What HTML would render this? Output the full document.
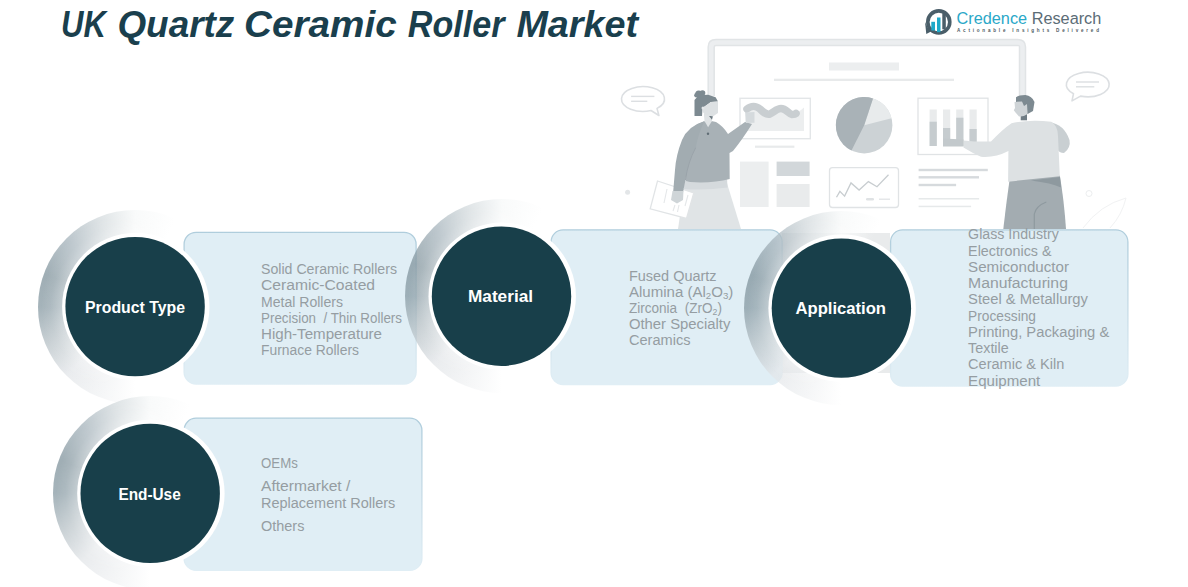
<!DOCTYPE html>
<html><head><meta charset="utf-8">
<style>
html,body{margin:0;padding:0;background:#fff;}
body{width:1188px;height:587px;position:relative;overflow:hidden;font-family:"Liberation Sans",sans-serif;}
svg{position:absolute;left:0;top:0;}
.t{font-family:"Liberation Sans",sans-serif;}
.lst{fill:#959da2;font-size:14px;}
.lbl{fill:#fff;font-weight:bold;font-size:16px;}
.ring{position:absolute;width:194px;height:194px;border-radius:50%;background:conic-gradient(rgba(247,249,249,0.75) 0deg, rgba(255,255,255,0) 25deg, rgba(255,255,255,0) 180deg, rgba(227,230,233,0.75) 225deg, rgba(184,194,199,0.75) 247deg, rgba(135,154,163,0.75) 270deg, rgba(128,147,156,0.75) 290deg, rgba(165,179,187,0.75) 315deg, rgba(211,218,221,0.75) 338deg, rgba(247,249,249,0.75) 360deg);}
.ringhl{position:absolute;width:194px;height:194px;border-radius:50%;background:radial-gradient(circle closest-side, rgba(255,255,255,0.32) 76%, rgba(255,255,255,0.1) 87%, rgba(255,255,255,0) 97%);-webkit-mask-image:conic-gradient(#000 0deg, transparent 25deg, transparent 180deg, #000 225deg, #000 360deg);mask-image:conic-gradient(#000 0deg, transparent 25deg, transparent 180deg, #000 225deg, #000 360deg);}
</style></head>
<body>
<svg width="1188" height="587" viewBox="0 0 1188 587">
<defs>
  <linearGradient id="bs" x1="0" y1="0" x2="0" y2="1">
    <stop offset="0" stop-color="#afcddc"/>
    <stop offset="0.5" stop-color="#c6dbe6"/>
    <stop offset="1" stop-color="#e0eef5"/>
  </linearGradient>
</defs>

<!-- ===== Title ===== -->
<g font-size="37" font-weight="bold" font-style="italic" fill="#1a3f4d">
  <text class="t" x="61.0" y="36.9" textLength="44.9" lengthAdjust="spacingAndGlyphs">UK</text>
  <text class="t" x="117.4" y="36.9" textLength="116.9" lengthAdjust="spacingAndGlyphs">Quartz</text>
  <text class="t" x="244.0" y="36.9" textLength="152.7" lengthAdjust="spacingAndGlyphs">Ceramic</text>
  <text class="t" x="407.8" y="36.9" textLength="96.7" lengthAdjust="spacingAndGlyphs">Roller</text>
  <text class="t" x="516.4" y="36.9" textLength="121.7" lengthAdjust="spacingAndGlyphs">Market</text>
</g>

<!-- ===== Logo ===== -->
<g>
  <circle cx="938.8" cy="21.9" r="11" fill="none" stroke="#4a5e69" stroke-width="3.6"/>
  <path d="M925 22 L926.3 34 L932 31 L928 28 Z" fill="#4a5e69"/>
  <rect x="942.3" y="13.1" width="3.5" height="16.2" fill="#4a5e69"/>
  <rect x="931.3" y="21.8" width="3.7" height="8.7" fill="#1fa9c9"/>
  <rect x="937" y="17.5" width="3.5" height="14.7" fill="#1fa9c9"/>
  <text class="t" x="956.5" y="23.6" font-size="16.3" fill="#2aa8c8">Credence <tspan fill="#5b6c76">Research</tspan></text>
  <text class="t" x="957" y="32.4" font-size="4.6" font-weight="bold" fill="#4d5a62" textLength="142" lengthAdjust="spacing">Actionable Insights Delivered</text>
</g>

<!-- ===== Illustration ===== -->
<g id="illus">
  <!-- board frame -->
  <path d="M711.2 96 V47 Q711.2 42.4 716 42.4 H1017.5 Q1022.5 42.4 1022.5 47 V96" fill="none" stroke="#e1e4e6" stroke-width="7.5"/>
  <path d="M711.2 96 V47 Q711.2 42.4 716 42.4 H1017.5 Q1022.5 42.4 1022.5 47 V96" fill="none" stroke="#eceef0" stroke-width="4.5"/>
  <!-- title bar & line -->
  <rect x="829" y="62.5" width="70" height="8" fill="#eceeef"/>
  <rect x="774" y="78.7" width="180" height="2.3" fill="#e8eaeb"/>
  <!-- wave chart -->
  <rect x="740" y="98.3" width="70.3" height="40.4" fill="#fff" stroke="#e3e6e8" stroke-width="1.4"/>
  <path d="M745.3 110 Q752 105 758 108 Q764 114 768 114 Q774 110 779 108 Q786 107 791 114 Q797 114 804 107.4 V131 H745.3 Z" fill="#eceeef"/>
  <path d="M747 109 C751 105.5 756 105.5 760 109 C763 112 766 115 770 114 C774 112 777 108.5 781 108.5 C786 108.5 789 114 792 114.5 C794 114.5 795.5 114 796 113.5" fill="none" stroke="#c9ced1" stroke-width="7.5" stroke-linecap="round"/>
  <rect x="755" y="145.6" width="39.4" height="2.2" fill="#e8eaeb"/>
  <!-- pie -->
  <circle cx="864.2" cy="125.3" r="28.2" fill="#ccd2d5"/>
  <path d="M864.2 125.3 L873.0 98.5 A28.2 28.2 0 0 1 891.5 118.2 Z" fill="#e8ebec"/>
  <path d="M864.2 125.3 L873.0 98.5 A28.2 28.2 0 0 0 851.5 150.5 Z" fill="#a9b2b7"/>
  <!-- blocks -->
  <rect x="740" y="161.6" width="28.6" height="45.4" fill="#eceeef"/>
  <rect x="776.6" y="161.6" width="33" height="14.4" fill="#d2d7da"/>
  <rect x="776.6" y="184" width="33" height="23" fill="#e9ebec"/>
  <!-- line chart -->
  <rect x="829.5" y="167.7" width="69" height="39.8" rx="3" fill="#fff" stroke="#e0e3e5" stroke-width="1.3"/>
  <polyline points="836.5,197.3 839.9,191.4 844.6,196.1 851,182.9 859.1,190.1 868.4,181.6 877,186.7 888.5,174.8" fill="none" stroke="#c8cdd0" stroke-width="1.3"/>
  <rect x="866" y="198" width="8" height="2.5" rx="1.2" fill="#dfe2e4"/>
  <rect x="879" y="198.6" width="11" height="1.2" fill="#dfe2e4"/>
  <!-- bar chart -->
  <rect x="918" y="98.2" width="70" height="56.3" fill="#fff" stroke="#e0e3e5" stroke-width="1.3"/>
  <rect x="929.6" y="109.5" width="7.2" height="36.5" fill="#e9ebec"/>
  <rect x="929.6" y="121.7" width="7.2" height="24.3" fill="#c6cccf"/>
  <rect x="943" y="109.5" width="7.2" height="36.5" fill="#e9ebec"/>
  <rect x="943" y="128" width="7.2" height="18" fill="#c6cccf"/>
  <rect x="956.2" y="109.5" width="7.2" height="36.5" fill="#e9ebec"/>
  <rect x="956.2" y="117.7" width="7.2" height="28.3" fill="#c6cccf"/>
  <rect x="969.5" y="109.5" width="7.2" height="36.5" fill="#e9ebec"/>
  <rect x="969.5" y="129" width="7.2" height="17" fill="#c6cccf"/>
  <!-- text lines right -->
  <rect x="918.6" y="168.8" width="69.2" height="2.4" fill="#d6dadd"/>
  <rect x="918.6" y="176.1" width="60.4" height="2.4" fill="#d6dadd"/>
  <rect x="918.6" y="183.8" width="37.5" height="2.4" fill="#d6dadd"/>
  <rect x="918.6" y="198" width="60.5" height="1.5" fill="#e6e9ea"/>
  <rect x="918.6" y="205.7" width="52.5" height="1.5" fill="#e6e9ea"/>
  <!-- speech bubbles -->
  <g fill="#fff" stroke="#dcdfe2" stroke-width="1.6" stroke-linejoin="round">
    <path d="M657.0 108.4 A21.5 12.4 0 1 0 651.0 110.5 L658.9 115.5 Z"/>
    <path d="M1073.5 93.7 A21.4 12.3 0 1 1 1080.5 96.1 L1072.0 100.9 Z"/>
  </g>
  <rect x="631.1" y="95.7" width="23.3" height="1.4" fill="#dcdfe2"/>
  <rect x="631.1" y="100.6" width="16.2" height="1.4" fill="#dcdfe2"/>
  <rect x="1076" y="81.3" width="23" height="1.4" fill="#dcdfe2"/>
  <rect x="1076" y="86.1" width="18.3" height="1.4" fill="#dcdfe2"/>
  <circle cx="627.6" cy="192.2" r="2.5" fill="#e3e6e8"/>
  <circle cx="1089" cy="193.5" r="3" fill="none" stroke="#eceeef" stroke-width="1"/>
  <path d="M1083 228 Q1100 205 1126 198 Q1122 215 1110 228" fill="none" stroke="#f1f2f3" stroke-width="1"/>

  <!-- ===== woman ===== -->
  <!-- skirt -->
  <path d="M685 182 L726 180 L741 229 L678 229 Z" fill="#e0e4e6"/>
  <path d="M684 180 L727 178 L727.5 187.5 Q706 190.5 684 189 Z" fill="#d5dadd"/>
  <!-- paper -->
  <path d="M657.5 181 L693.8 193 L686.5 218.5 L650.2 208.8 Z" fill="#fff" stroke="#e1e4e6" stroke-width="1.3"/>
  <g stroke="#e4e7e9" stroke-width="1.1"><line x1="667" y1="189" x2="664" y2="203"/><line x1="675" y1="205" x2="673" y2="211"/><line x1="679" y1="205" x2="677.5" y2="212"/><line x1="688" y1="195" x2="685" y2="206"/></g>
  <!-- sweater body + raised arm -->
  <path d="M704.2 121.3 Q711 120.5 716 122 Q723 126 728 134 L745 122 L752 124 Q742 140 733 151 L729.5 153 L729.7 179 Q712 183.5 690 182 L686 181 Q683 160 685 140 Q690 126 704.2 121.3 Z" fill="#a8b1b6"/>
  <!-- left hanging arm -->
  <path d="M704.2 121.3 Q688 126 682 140 Q676 155 675 170 L673.2 191.5 L683.2 191.5 L685.4 180 Q688 160 695.7 147.7 Q698 135 704.2 121.3 Z" fill="#a2acb1"/>
  <path d="M695.7 147.7 Q688 162 685.4 180" fill="none" stroke="#98a2a8" stroke-width="0.9"/>
  <!-- hands -->
  <path d="M672.5 191 L683.5 191 L683 200 L677 203.5 L671 200 Z" fill="#cfd5d8"/>
  <path d="M745.3 112.5 L754.5 112 L754.5 122.7 L746 123 Z" fill="#d5dadd"/>
  <!-- neck -->
  <path d="M703.9 114 L712 114 L712 121 L708.1 127.2 L704.5 121 Z" fill="#dfe3e5"/>
  <path d="M709 116 L713 116 L712 119.7 Z" fill="#6f7c84"/>
  <!-- hair & face -->
  <path d="M694.5 100 L698.7 95.3 L708.1 94.8 L715.6 97.2 L718 101.4 L710.9 101.9 L702.5 108 L702 115.9 L694.5 115.9 Z" fill="#7d8a91"/>
  <path d="M702.5 108 L710.9 101.9 L718 101.4 L718 113.1 L712.8 116.4 L704.8 114.5 L703 112.2 Z" fill="#dde1e3"/>
  <circle cx="703" cy="108" r="1.5" fill="#e3e6e8"/>
  <circle cx="698.7" cy="93.9" r="3.5" fill="#7d8a91"/>
  <circle cx="702.5" cy="93" r="2.8" fill="#7d8a91"/>
  <circle cx="696.4" cy="95.3" r="2.2" fill="#7d8a91"/>
  <circle cx="708" cy="133.7" r="1.2" fill="#5f6d75"/>

  <!-- ===== man ===== -->
  <!-- back arm -->
  <path d="M1049 122 Q1064 124 1069.5 140 Q1071 148 1064 153 Q1059 153 1057 149 Z" fill="#c9cfd2"/>
  <!-- pants -->
  <path d="M1009.5 180.3 L1059.8 175.6 Q1064 200 1066 229 L1003.3 229 Q1006 205 1009.5 180.3 Z" fill="#a3acb1"/>
  <path d="M1030.8 180.5 L1060 177 L1061 187.6 Q1052 183 1030.8 180.5 Z" fill="#8e999f"/>
  <path d="M1046.3 202 Q1036 206 1034.3 214 L1034.3 229" fill="none" stroke="#8e999f" stroke-width="1.2"/>
  <!-- shirt -->
  <path d="M1011.5 123.3 Q1030 119 1051.3 121.8 Q1058 126 1058 136 L1059.8 176.3 L1008.1 181.7 L1008.4 151 Q995 158 981 156.8 Q972 153 963.5 147.6 L963.5 140.4 Q978 142 991 141.5 Q1003 129 1011.5 123.3 Z" fill="#dde1e3"/>
  <!-- hand -->
  <path d="M943 138.4 L963.5 139.5 L963.5 146.6 L943 146.6 Z" fill="#c3c9cc"/>
  <!-- neck -->
  <path d="M1020.7 114 L1027 114 L1027 120.3 L1020.7 120.3 Z" fill="#6f7c84"/>
  <!-- head -->
  <path d="M1016 97.3 Q1019 95 1025.3 95 Q1032 96 1034.5 101.9 L1033 111 L1027.6 114 L1020 113 L1016 103 Z" fill="#7d8a91"/>
  <path d="M1014.5 101.9 L1022 101.5 L1024 106 L1027 104 L1027.6 114 Q1023 117 1019 116.4 L1015.5 112.5 L1013.8 110.3 L1015 108 Z" fill="#cfd4d7"/>
</g>

<!-- connector gray band behind application -->
<rect x="782" y="233" width="108" height="140" fill="#e9ebec"/>

<!-- ===== Boxes ===== -->
<g stroke="url(#bs)" stroke-width="1.3" fill="#e0eef5">
  <rect x="184.1" y="232.3" width="232" height="151.7" rx="12"/>
  <rect x="551.1" y="229.9" width="231" height="154.7" rx="12"/>
  <rect x="890.6" y="229.9" width="237.3" height="156.1" rx="12"/>
  <rect x="184.1" y="418.2" width="237.8" height="152.2" rx="12"/>
</g>

<!-- ===== Lists ===== -->
<g class="t lst">
  <text x="261" y="274.1" textLength="136.0" lengthAdjust="spacingAndGlyphs">Solid Ceramic Rollers</text>
  <text x="261" y="290.3" textLength="114.1" lengthAdjust="spacingAndGlyphs">Ceramic-Coated</text>
  <text x="261" y="306.5" textLength="82.0" lengthAdjust="spacingAndGlyphs">Metal Rollers</text>
  <text x="261" y="322.7" textLength="141.0" lengthAdjust="spacingAndGlyphs">Precision&#160; / Thin Rollers</text>
  <text x="261" y="338.9" textLength="121.0" lengthAdjust="spacingAndGlyphs">High-Temperature</text>
  <text x="261" y="355.1" textLength="98.0" lengthAdjust="spacingAndGlyphs">Furnace Rollers</text>
  <text x="628.9" y="280.7" textLength="87.7" lengthAdjust="spacingAndGlyphs">Fused Quartz</text>
  <text x="628.9" y="296.8" textLength="104.5" lengthAdjust="spacingAndGlyphs">Alumina (Al<tspan font-size="9" dy="2">2</tspan><tspan dy="-2">O</tspan><tspan font-size="9" dy="2">3</tspan><tspan dy="-2">)</tspan></text>
  <text x="628.9" y="312.9" textLength="93.1" lengthAdjust="spacingAndGlyphs">Zirconia&#160; (ZrO<tspan font-size="9" dy="2">2</tspan><tspan dy="-2">)</tspan></text>
  <text x="628.9" y="329" textLength="101.5" lengthAdjust="spacingAndGlyphs">Other Specialty</text>
  <text x="628.9" y="345.1" textLength="61.6" lengthAdjust="spacingAndGlyphs">Ceramics</text>
  <text x="968.1" y="239.2" textLength="90.8" lengthAdjust="spacingAndGlyphs">Glass Industry</text>
  <text x="968.1" y="255.9" textLength="83.4" lengthAdjust="spacingAndGlyphs">Electronics &amp;</text>
  <text x="968.1" y="272" textLength="100.9" lengthAdjust="spacingAndGlyphs">Semiconductor</text>
  <text x="968.1" y="288.1" textLength="99.8" lengthAdjust="spacingAndGlyphs">Manufacturing</text>
  <text x="968.1" y="304.2" textLength="119.8" lengthAdjust="spacingAndGlyphs">Steel &amp; Metallurgy</text>
  <text x="968.1" y="320.5" textLength="67.9" lengthAdjust="spacingAndGlyphs">Processing</text>
  <text x="968.1" y="336.8" textLength="141.2" lengthAdjust="spacingAndGlyphs">Printing, Packaging &amp;</text>
  <text x="968.1" y="353.1" textLength="40.6" lengthAdjust="spacingAndGlyphs">Textile</text>
  <text x="968.1" y="369.4" textLength="96.2" lengthAdjust="spacingAndGlyphs">Ceramic &amp; Kiln</text>
  <text x="968.1" y="385.7" textLength="72.2" lengthAdjust="spacingAndGlyphs">Equipment</text>
  <text x="261" y="468.4" textLength="36.8" lengthAdjust="spacingAndGlyphs">OEMs</text>
  <text x="261" y="491.4" textLength="89.4" lengthAdjust="spacingAndGlyphs">Aftermarket /</text>
  <text x="261" y="507.5" textLength="134.3" lengthAdjust="spacingAndGlyphs">Replacement Rollers</text>
  <text x="261" y="530.5" textLength="43.4" lengthAdjust="spacingAndGlyphs">Others</text>
</g>
</svg>
<div class="ring" style="left:38.10px;top:209.60px"></div>
<div class="ringhl" style="left:38.10px;top:209.60px"></div>
<div class="ring" style="left:404.50px;top:199.20px"></div>
<div class="ringhl" style="left:404.50px;top:199.20px"></div>
<div class="ring" style="left:744.40px;top:211.15px"></div>
<div class="ringhl" style="left:744.40px;top:211.15px"></div>
<div class="ring" style="left:53.20px;top:396.40px"></div>
<div class="ringhl" style="left:53.20px;top:396.40px"></div>
<svg width="1188" height="587" viewBox="0 0 1188 587" style="position:absolute;left:0;top:0">
  <circle cx="135.80" cy="306.6" r="73.7" fill="#fff"/>
  <circle cx="135.1" cy="306.6" r="69.7" fill="#183f4a"/>
  <circle cx="502.20" cy="296.2" r="73.7" fill="#fff"/>
  <circle cx="501.5" cy="296.2" r="69.7" fill="#183f4a"/>
  <circle cx="842.10" cy="308.15" r="73.7" fill="#fff"/>
  <circle cx="841.4" cy="308.15" r="69.7" fill="#183f4a"/>
  <circle cx="150.90" cy="493.4" r="73.7" fill="#fff"/>
  <circle cx="150.2" cy="493.4" r="69.7" fill="#183f4a"/>
<!-- ===== Labels ===== -->
<text class="t lbl" x="85" y="312.7" textLength="100" lengthAdjust="spacingAndGlyphs">Product Type</text>
<text class="t lbl" x="468" y="302.2" font-size="16.6" textLength="65" lengthAdjust="spacingAndGlyphs">Material</text>
<text class="t lbl" x="795.5" y="313.9" textLength="90.5" lengthAdjust="spacingAndGlyphs">Application</text>
<text class="t lbl" x="118.4" y="499.9" textLength="62.3" lengthAdjust="spacingAndGlyphs">End-Use</text>

</svg>
</body></html>
